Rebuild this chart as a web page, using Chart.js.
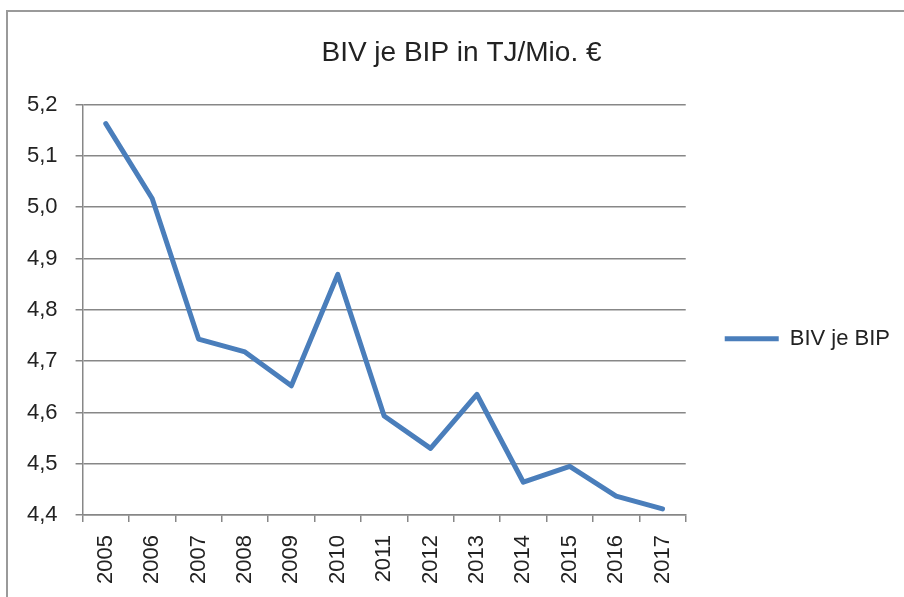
<!DOCTYPE html>
<html>
<head>
<meta charset="utf-8">
<script src="https://cdn.jsdelivr.net/npm/chart.js@4"></script>
<style>
  html, body { margin: 0; padding: 0; background: #ffffff; }
  #wrap { position: relative; width: 904px; height: 597px; overflow: hidden; }
  #c { position: absolute; left: 0; top: 0; }
  #frame { position: absolute; left: 6px; top: 10px; right: -10px; bottom: -10px;
           border-left: 2px solid #9a9a9a; border-top: 2px solid #9a9a9a; pointer-events: none; }
</style>
</head>
<body>
<div id="wrap">
  <canvas id="c" width="904" height="597"></canvas>
  <div id="frame"></div>
</div>
<script>
const categories = ['2005','2006','2007','2008','2009','2010','2011','2012','2013','2014','2015','2016','2017'];
const seriesName = 'BIV je BIP';
const seriesValues = [5.163, 5.017, 4.743, 4.718, 4.652, 4.869, 4.593, 4.530, 4.635, 4.464, 4.495, 4.437, 4.412];
const yTickLabels = ['4,4','4,5','4,6','4,7','4,8','4,9','5,0','5,1','5,2'];
const chartTitle = 'BIV je BIP in TJ/Mio. €';

const FONT = "'Liberation Sans', Arial, sans-serif";
const TEXT = '#222222';
const GRID = '#878787';
const LINE = '#4A7EBB';

new Chart(document.getElementById('c'), {
  type: 'line',
  data: {
    labels: categories,
    datasets: [{
      label: seriesName,
      data: seriesValues,
      borderColor: LINE,
      backgroundColor: LINE,
      borderWidth: 5,
      borderCapStyle: 'round',
      borderJoinStyle: 'round',
      pointRadius: 0,
      pointHoverRadius: 0,
      pointStyle: 'line',
      tension: 0,
      fill: false
    }]
  },
  options: {
    responsive: false,
    devicePixelRatio: 1,
    animation: false,
    layout: { padding: { left: 23, right: 4, top: 0, bottom: 0 } },
    plugins: {
      title: {
        display: true,
        text: chartTitle,
        color: TEXT,
        font: { family: FONT, size: 28, weight: 'normal' },
        padding: { top: 36, bottom: 35 }
      },
      legend: {
        display: true,
        position: 'right',
        fullSize: false,
        title: { display: true, text: '', padding: 23, font: { family: FONT, size: 10 } },
        labels: {
          usePointStyle: true,
          pointStyle: 'line',
          pointStyleWidth: 54,
          padding: 39,
          color: TEXT,
          font: { family: FONT, size: 22 }
        }
      },
      tooltip: { enabled: false }
    },
    scales: {
      x: {
        type: 'category',
        offset: true,
        grid: {
          offset: true,
          drawOnChartArea: false,
          drawTicks: true,
          tickLength: 7,
          color: GRID,
          lineWidth: 1.5
        },
        border: { display: true, color: GRID, width: 1.5 },
        ticks: {
          minRotation: 90,
          maxRotation: 90,
          padding: 13,
          autoSkip: false,
          color: TEXT,
          font: { family: FONT, size: 22 }
        }
      },
      y: {
        min: 4.4,
        max: 5.2,
        afterFit: function(scale) { scale.width = scale.width - 14; },
        grid: {
          drawOnChartArea: true,
          drawTicks: true,
          tickLength: 7,
          color: GRID,
          lineWidth: 1.5
        },
        border: { display: true, color: GRID, width: 1.5 },
        ticks: {
          stepSize: 0.1,
          padding: 18,
          color: TEXT,
          font: { family: FONT, size: 22 },
          callback: function(value, index) {
            return yTickLabels[index] !== undefined ? yTickLabels[index] : String(value.toFixed(1)).replace('.', ',');
          }
        }
      }
    }
  }
});
</script>
</body>
</html>
